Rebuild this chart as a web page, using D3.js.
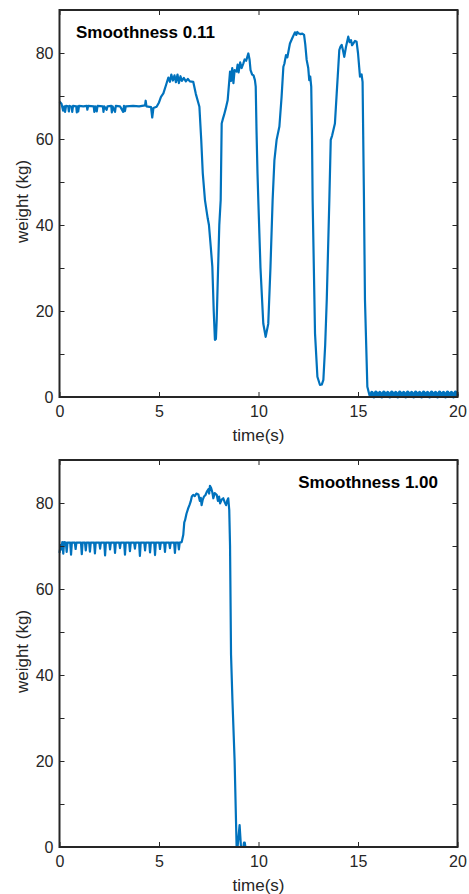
<!DOCTYPE html>
<html>
<head>
<meta charset="utf-8">
<script src="https://cdn.jsdelivr.net/npm/d3@7"></script>
<style>
  body { margin: 0; background: #fff; }
  svg { display: block; }
  text { font-family: "Liberation Sans", Arial, Helvetica, sans-serif; }
</style>
</head>
<body>
<svg id="chart" width="469" height="894"></svg>
<script>
// axis ticks
const timeTicks = [0, 5, 10, 15, 20];
const weightTicks = [0, 10, 20, 30, 40, 50, 60, 70, 80];
const weightLabels = [0, 20, 40, 60, 80];

const titles = ['Smoothness 0.11', 'Smoothness 1.00'];

// [time (s), weight (kg)]
const smooth011 = [
  [0, 68.7], [0.1, 68.2], [0.18, 66.6], [0.24, 67.6], [0.28, 66.3], [0.33, 67.7], [0.44, 67.6],
  [0.47, 66.4], [0.51, 67.7], [0.61, 67.5], [0.64, 66.3], [0.68, 67.7], [0.84, 67.6], [0.87, 66.2],
  [0.9, 67.6], [0.94, 66.4], [0.98, 67.7], [1.2, 67.6], [1.37, 67.7], [1.4, 66.8], [1.44, 67.7],
  [1.72, 67.6], [1.75, 66.3], [1.79, 67.6], [1.87, 66.4], [1.91, 67.7], [2.18, 67.6], [2.21, 66.3],
  [2.25, 67.6], [2.37, 66.8], [2.41, 67.6], [2.6, 67.7], [2.63, 66.2], [2.67, 67.6], [2.79, 66.3],
  [2.83, 67.7], [3.04, 67.6], [3.2, 66.3], [3.24, 67.7], [3.29, 66.5], [3.33, 67.6], [3.7, 67.7],
  [4.0, 67.6], [4.3, 67.8], [4.33, 68.9], [4.37, 67.6], [4.6, 67.4], [4.66, 65.0], [4.72, 67.2],
  [4.88, 67.5], [5.0, 68.5], [5.1, 69.8], [5.22, 70.6], [5.35, 72.5], [5.47, 74.3], [5.55, 73.3],
  [5.62, 75.0], [5.7, 73.6], [5.78, 74.8], [5.85, 73.2], [5.93, 75.0], [6.0, 73.0], [6.08, 74.6],
  [6.15, 73.5], [6.25, 74.2], [6.35, 73.4], [6.45, 74.0], [6.55, 73.4], [6.72, 73.3], [6.85, 70.5],
  [7.03, 67.5], [7.12, 60], [7.2, 52], [7.31, 45.8], [7.4, 43], [7.45, 41.5], [7.51, 40],
  [7.6, 35], [7.68, 30.3], [7.75, 20], [7.81, 13.3], [7.86, 13.5], [7.9, 18], [7.97, 30],
  [8.03, 40], [8.1, 45.8], [8.15, 63.6], [8.2, 64.5], [8.27, 65.6], [8.35, 67], [8.45, 69],
  [8.57, 75.7], [8.62, 73.5], [8.68, 76.5], [8.74, 73], [8.8, 76], [8.9, 75.7], [8.95, 77.3],
  [9.0, 75.5], [9.08, 77.8], [9.15, 76.5], [9.24, 77.6], [9.3, 78.5], [9.38, 78.2], [9.49, 79.9],
  [9.55, 78.5], [9.6, 76], [9.68, 75], [9.75, 74.8], [9.82, 73.7], [9.86, 72.2], [9.9, 62],
  [9.95, 52], [9.99, 45.8], [10.1, 30], [10.24, 17.1], [10.36, 14], [10.49, 17], [10.6, 30],
  [10.71, 45.8], [10.8, 55.1], [10.91, 59.8], [11.05, 62.9], [11.16, 69.8], [11.25, 76.8],
  [11.3, 77.5], [11.38, 79.5], [11.45, 79], [11.58, 82.2], [11.7, 83.5], [11.83, 84.8],
  [11.9, 84.2], [11.95, 84.9], [12.0, 84.6], [12.1, 84.4], [12.2, 84.5], [12.29, 84.2],
  [12.35, 82], [12.42, 78.4], [12.5, 76.5], [12.55, 73.7], [12.6, 74.5], [12.65, 72.2],
  [12.69, 60], [12.72, 45.8], [12.84, 14.8], [12.96, 4.7], [13.09, 2.8], [13.18, 2.9],
  [13.26, 4], [13.35, 12], [13.43, 22.6], [13.56, 45.8], [13.63, 59.8], [13.7, 60.8],
  [13.84, 63.6], [13.93, 70.6], [14.0, 76], [14.06, 80.7], [14.12, 81.5], [14.18, 81.9],
  [14.25, 80.5], [14.31, 79.1], [14.4, 81.5], [14.51, 83.8], [14.58, 82.5], [14.65, 83],
  [14.7, 81.8], [14.76, 82.2], [14.85, 82.8], [14.93, 82.6], [15.0, 80], [15.1, 74.5],
  [15.18, 75], [15.23, 73.3], [15.3, 45.8], [15.35, 22.6], [15.47, 2.4], [15.57, 0.5], [15.62, 0]
];

// sensor chatter after stepping off (drawn as a dense band)
const tail011 = [
  [15.62, 0], [15.7, 1.0], [15.8, 0.1], [15.9, 1.1], [16.0, 0.2], [16.1, 1.0], [16.2, 0.1], [16.3, 1.1],
  [16.4, 0.2], [16.5, 1.0], [16.6, 0.1], [16.7, 1.1], [16.8, 0.2], [16.9, 1.0], [17.0, 0.1],
  [17.1, 1.1], [17.2, 0.2], [17.3, 1.0], [17.4, 0.1], [17.5, 1.1], [17.6, 0.2], [17.7, 1.0],
  [17.8, 0.1], [17.9, 1.1], [18.0, 0.2], [18.1, 1.0], [18.2, 0.1], [18.3, 1.1], [18.4, 0.2],
  [18.5, 1.0], [18.6, 0.1], [18.7, 1.1], [18.8, 0.2], [18.9, 1.0], [19.0, 0.1], [19.1, 1.1],
  [19.2, 0.2], [19.3, 1.0], [19.4, 0.1], [19.5, 1.1], [19.6, 0.2], [19.7, 1.0], [19.8, 0.1],
  [19.9, 1.1], [20.0, 0.2]
];

const smooth100 = [
  [0, 68.4], [0.06, 70.2], [0.1, 69.2], [0.14, 70.9], [0.19, 68.2], [0.23, 70.9], [0.32, 70.8],
  [0.36, 68.6], [0.4, 70.8], [0.54, 70.8], [0.58, 68.0], [0.62, 70.8], [0.77, 70.8], [0.81, 69.3],
  [0.85, 70.8], [1.08, 70.8], [1.12, 68.1], [1.16, 70.8], [1.28, 70.8], [1.32, 69.0], [1.36, 70.8],
  [1.49, 70.8], [1.53, 68.7], [1.57, 70.8], [1.74, 70.8], [1.78, 68.3], [1.82, 70.8], [2.0, 70.8],
  [2.04, 69.4], [2.08, 70.8], [2.25, 70.8], [2.29, 67.8], [2.33, 70.8], [2.5, 70.8], [2.54, 69.2],
  [2.58, 70.8], [2.75, 70.8], [2.79, 68.4], [2.83, 70.8], [3.0, 70.8], [3.04, 69.5], [3.08, 70.8],
  [3.25, 70.8], [3.29, 68.0], [3.33, 70.8], [3.5, 70.8], [3.54, 68.8], [3.58, 70.8], [3.75, 70.8],
  [3.79, 69.4], [3.83, 70.8], [4.0, 70.8], [4.04, 67.7], [4.08, 70.8], [4.26, 70.8], [4.3, 69.0],
  [4.34, 70.8], [4.51, 70.8], [4.55, 68.5], [4.59, 70.8], [4.76, 70.8], [4.8, 67.9], [4.84, 70.8],
  [5.01, 70.8], [5.05, 69.3], [5.09, 70.8], [5.26, 70.8], [5.3, 68.6], [5.34, 70.8], [5.51, 70.8],
  [5.55, 69.5], [5.59, 70.8], [5.76, 70.8], [5.8, 68.4], [5.84, 70.8], [5.96, 70.8], [6.0, 69.2],
  [6.04, 70.8], [6.14, 70.9], [6.22, 72.6], [6.27, 75.5], [6.31, 76], [6.38, 77.5], [6.47, 78.8],
  [6.53, 79.5], [6.59, 80.3], [6.65, 81.5], [6.72, 81.9], [6.8, 81.6], [6.88, 82.2], [6.98, 82],
  [7.05, 80.5], [7.1, 81.2], [7.14, 79.5], [7.2, 80.8], [7.26, 81.5], [7.33, 81.8], [7.4, 82.6],
  [7.48, 83.2], [7.52, 82.2], [7.56, 84], [7.62, 83.5], [7.68, 82.5], [7.73, 81.1], [7.8, 82.3],
  [7.9, 81.9], [7.96, 80.5], [8.02, 81.5], [8.07, 79.9], [8.15, 80.8], [8.23, 81.1], [8.3, 80.2],
  [8.37, 79.5], [8.43, 80.6], [8.48, 81.1], [8.53, 78.4], [8.57, 70], [8.62, 44.7], [8.69, 34.2],
  [8.8, 20], [8.9, 0], [8.95, 0], [9.05, 5.1], [9.12, 0], [9.24, 0], [9.27, 1], [9.31, 1],
  [9.34, 0], [20, 0]
];

const panels = [
  { series: smooth011, band: tail011, title: titles[0], top: 10, bottom: 397, titleSide: 'left' },
  { series: smooth100, band: null, title: titles[1], top: 460, bottom: 847, titleSide: 'right' }
];

const left = 59.5, right = 457.5;
const blue = '#0072BD', ink = '#262626';

const svg = d3.select('#chart');

const x = d3.scaleLinear().domain([0, 20]).range([left, right]);

panels.forEach(p => {
  const y = d3.scaleLinear().domain([0, 90]).range([p.bottom, p.top]);
  const g = svg.append('g');

  const line = d3.line()
    .x(d => x(d[0]))
    .y(d => y(d[1]));

  g.append('path')
    .datum(p.series)
    .attr('fill', 'none')
    .attr('stroke', blue)
    .attr('stroke-width', 2.2)
    .attr('stroke-linejoin', 'round')
    .attr('d', line);

  if (p.band) {
    g.append('path')
      .datum(p.band)
      .attr('fill', 'none')
      .attr('stroke', blue)
      .attr('stroke-width', 3.6)
      .attr('stroke-linejoin', 'round')
      .attr('d', line);
  }

  // axes (inward ticks, mirrored on top and right)
  const styleAxis = sel => {
    sel.select('.domain').remove();
    sel.selectAll('.tick line').attr('stroke', ink).attr('stroke-width', 1);
    sel.selectAll('.tick text').attr('fill', ink).attr('font-size', 16)
      .attr('font-family', '"Liberation Sans", Arial, Helvetica, sans-serif');
  };

  g.append('g')
    .attr('transform', `translate(0,${p.bottom})`)
    .call(d3.axisBottom(x).tickValues(timeTicks).tickSize(-5).tickPadding(8.5))
    .call(styleAxis);
  g.append('g')
    .attr('transform', `translate(0,${p.top})`)
    .call(d3.axisTop(x).tickValues(timeTicks).tickSize(-5).tickFormat(''))
    .call(styleAxis);
  g.append('g')
    .attr('transform', `translate(${left},0)`)
    .call(d3.axisLeft(y).tickValues(weightTicks).tickSize(-5).tickPadding(6)
      .tickFormat(d => weightLabels.includes(d) ? d : ''))
    .call(styleAxis);
  g.append('g')
    .attr('transform', `translate(${right},0)`)
    .call(d3.axisRight(y).tickValues(weightTicks).tickSize(-5).tickFormat(''))
    .call(styleAxis);

  g.append('rect')
    .attr('x', left).attr('y', p.top)
    .attr('width', right - left).attr('height', p.bottom - p.top)
    .attr('fill', 'none').attr('stroke', ink).attr('stroke-width', 2);

  // labels
  g.append('text')
    .attr('x', (left + right) / 2).attr('y', p.bottom + 44)
    .attr('text-anchor', 'middle').attr('font-size', 17).attr('fill', ink)
    .text('time(s)');
  g.append('text')
    .attr('transform', `translate(27.5,${(p.top + p.bottom) / 2 - 2}) rotate(-90)`)
    .attr('text-anchor', 'middle').attr('font-size', 17).attr('fill', ink)
    .text('weight (kg)');

  const t = g.append('text')
    .attr('y', p.top + 27.5)
    .attr('font-size', 17).attr('font-weight', 'bold').attr('fill', '#000')
    .text(p.title);
  if (p.titleSide === 'left') t.attr('x', left + 16.5);
  else t.attr('x', right - 19.5).attr('text-anchor', 'end');
});
</script>
</body>
</html>
